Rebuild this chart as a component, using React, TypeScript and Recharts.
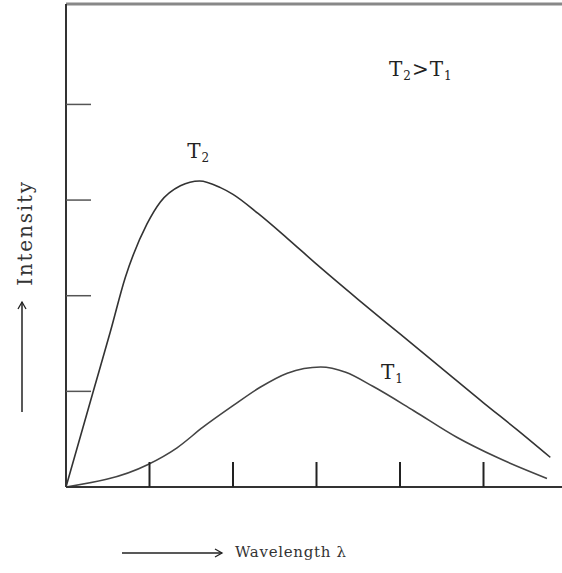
import React from 'react';
import { LineChart, Line, XAxis, YAxis, ReferenceLine, ReferenceDot } from 'recharts';

// wavelength / intensity (axis units = tick steps)
const t2Wavelength = [0, 0.32, 0.53, 0.71, 0.97, 1.13, 1.37, 1.6, 1.85, 2.0, 2.3, 2.65, 3.0, 3.5, 4.0, 4.5, 5.0, 5.4, 5.8];
const t2Intensity = [0, 0.98, 1.62, 2.19, 2.75, 2.98, 3.15, 3.2, 3.13, 3.06, 2.86, 2.6, 2.33, 1.96, 1.6, 1.24, 0.88, 0.6, 0.31];

const t1Wavelength = [0, 0.97, 1.33, 1.64, 2.0, 2.32, 2.65, 3.05, 3.35, 3.68, 4.16, 4.68, 5.16, 5.76];
const t1Intensity = [0, 0.23, 0.41, 0.625, 0.85, 1.04, 1.19, 1.255, 1.2, 1.05, 0.8, 0.52, 0.31, 0.09];

const xTicks = [1, 2, 3, 4, 5];
const yTicks = [1, 2, 3, 4];
const xMax = 5.94;
const yMax = 5.05;

const t2Data = t2Wavelength.map((x, i) => ({ x, y: t2Intensity[i] }));
const t1Data = t1Wavelength.map((x, i) => ({ x, y: t1Intensity[i] }));

const serif = '"DejaVu Serif", "Liberation Serif", serif';
const noText = () => '';

const subLabel = (parts: [string, string][], size: number) => (props: any) => {
  const vb = props.viewBox || {};
  const cx = vb.x + (vb.width || 0) / 2;
  const cy = vb.y + (vb.height || 0) / 2;
  return (
    <text x={cx} y={cy} textAnchor="middle" fontFamily={serif} fontSize={size} fill="#222" letterSpacing={1}>
      {parts.map(([main, sub], i) => (
        <React.Fragment key={i}>
          <tspan dy={i === 0 ? 0 : -4}>{main}</tspan>
          {sub ? <tspan fontSize={size * 0.6} dy={4}>{sub}</tspan> : null}
        </React.Fragment>
      ))}
    </text>
  );
};

const App: React.FC = () => {
  return (
    <div style={{ position: 'absolute', left: 0, top: 0, width: 562, height: 573, background: '#fff' }}>
      <LineChart width={562} height={573} margin={{ top: 4, right: 0, bottom: 85, left: 65 }}>
        <XAxis
          type="number"
          dataKey="x"
          domain={[0, xMax]}
          ticks={xTicks}
          height={1}
          tickFormatter={noText}
          tickSize={-25}
          axisLine={{ stroke: '#333', strokeWidth: 2 }}
          tickLine={{ stroke: '#222', strokeWidth: 2 }}
          allowDataOverflow
        />
        <YAxis
          type="number"
          dataKey="y"
          domain={[0, yMax]}
          ticks={yTicks}
          width={1}
          tickFormatter={noText}
          tickSize={-25}
          axisLine={{ stroke: '#333', strokeWidth: 2 }}
          tickLine={{ stroke: '#555', strokeWidth: 1.5 }}
          allowDataOverflow
        />
        <ReferenceLine y={yMax} stroke="#888" strokeWidth={3} />
        <Line data={t2Data} dataKey="y" type="monotone" stroke="#333" strokeWidth={1.6} dot={false} isAnimationActive={false} />
        <Line data={t1Data} dataKey="y" type="monotone" stroke="#444" strokeWidth={1.6} dot={false} isAnimationActive={false} />
        <ReferenceDot x={1.59} y={3.44} r={1} fill="none" stroke="none" label={{ content: subLabel([['T', '2']], 20) }} />
        <ReferenceDot x={3.91} y={1.13} r={1} fill="none" stroke="none" label={{ content: subLabel([['T', '1']], 20) }} />
        <ReferenceDot x={4.25} y={4.3} r={1} fill="none" stroke="none" label={{ content: subLabel([['T', '2'], ['>T', '1']], 20) }} />
      </LineChart>
      <svg width={562} height={573} style={{ position: 'absolute', left: 0, top: 0, pointerEvents: 'none' }}>
        <defs>
          <marker id="ah" markerWidth="10" markerHeight="10" refX="8" refY="5" orient="auto" markerUnits="userSpaceOnUse">
            <path d="M1,1 L8,5 L1,9" fill="none" stroke="#222" strokeWidth={1.3} />
          </marker>
        </defs>
        <line x1={22} y1={412} x2={22} y2={302} stroke="#222" strokeWidth={1.5} markerEnd="url(#ah)" />
        <text x={32} y={233} transform="rotate(-90 32 233)" textAnchor="middle" fontFamily={serif} fontSize={20} letterSpacing={1.8} fill="#333">
          Intensity
        </text>
        <line x1={122} y1={553} x2={222} y2={553} stroke="#222" strokeWidth={1.3} markerEnd="url(#ah)" />
        <text x={235} y={557} fontFamily={serif} fontSize={15} letterSpacing={0.7} fill="#333">
          Wavelength λ
        </text>
      </svg>
    </div>
  );
};

export default App;
